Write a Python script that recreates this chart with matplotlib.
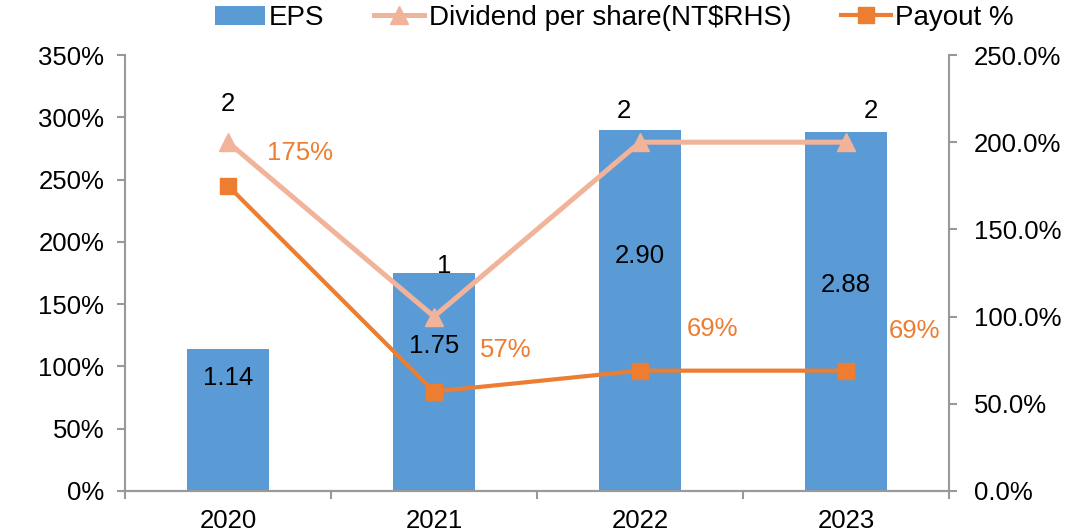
import matplotlib

matplotlib.use("Agg")

import matplotlib.pyplot as plt  # noqa: E402
from matplotlib.ticker import FixedLocator, PercentFormatter  # noqa: E402

plt.rcParams["font.family"] = ["Liberation Sans", "DejaVu Sans"]
plt.rcParams["font.size"] = 18.5

# values
YEARS = ["2020", "2021", "2022", "2023"]
EPS = [1.14, 1.75, 2.90, 2.88]  # plotted on left axis (1.00 = 100%)
DIVIDEND = [2, 1, 2, 2]  # plotted on right axis (1 = 100%)
PAYOUT = [1.75, 0.57, 0.69, 0.69]  # right axis
PAYOUT_LABELS = ["175%", "57%", "69%", "69%"]

# where Excel dropped the data labels (left-axis units for EPS, right-axis units for lines)
EPS_LABEL_Y = [0.91, 1.16, 1.89, 1.65]
DIV_LABEL_POS = [(0.0, 2.22), (0.05, 1.29), (-0.08, 2.18), (0.12, 2.18)]
PAYOUT_LABEL_POS = [(0.35, 1.94), (0.35, 0.81), (0.35, 0.93), (0.33, 0.92)]

BAR_COLOR = "#5B9BD5"
DIV_COLOR = "#F2B39B"
PAYOUT_COLOR = "#ED7D31"
AXIS_COLOR = "#999999"


def main() -> None:
    fig = plt.figure(figsize=(10.91, 5.32), dpi=100)
    ax = fig.add_axes([0.1146, 0.0771, 0.7553, 0.8195])
    ax2 = ax.twinx()

    x = list(range(len(YEARS)))
    ax.bar(x, EPS, width=0.4, color=BAR_COLOR, label="EPS", zorder=2)
    ax2.plot(x, DIVIDEND, color=DIV_COLOR, lw=3.6, marker="^", ms=13,
             label="Dividend per share(NT$RHS)", zorder=3)
    ax2.plot(x, PAYOUT, color=PAYOUT_COLOR, lw=3.0, marker="s", ms=11,
             label="Payout %", zorder=4)

    for i, v in enumerate(EPS):
        ax.text(i, EPS_LABEL_Y[i], f"{v:.2f}", ha="center", va="center", color="black")
    for i, v in enumerate(DIVIDEND):
        dx, y = DIV_LABEL_POS[i]
        ax2.text(i + dx, y, f"{v}", ha="center", va="center", color="black")
    for i, lab in enumerate(PAYOUT_LABELS):
        dx, y = PAYOUT_LABEL_POS[i]
        ax2.text(i + dx, y, lab, ha="center", va="center", color=PAYOUT_COLOR)

    ax.set_xlim(-0.5, len(YEARS) - 0.5)
    ax.set_ylim(0, 3.5)
    ax2.set_ylim(0, 2.5)
    ax.set_yticks([i * 0.5 for i in range(8)])
    ax2.set_yticks([i * 0.5 for i in range(6)])
    ax.yaxis.set_major_formatter(PercentFormatter(xmax=1, decimals=0))
    ax2.yaxis.set_major_formatter(PercentFormatter(xmax=1, decimals=1))

    ax.set_xticks(x)
    ax.set_xticklabels(YEARS)
    ax.xaxis.set_minor_locator(FixedLocator([i - 0.5 for i in range(len(YEARS) + 1)]))
    ax.tick_params(axis="x", which="major", length=0, pad=13)
    ax.tick_params(axis="x", which="minor", length=6, width=1.5, color=AXIS_COLOR)
    ax.tick_params(axis="y", length=6, width=1.5, color=AXIS_COLOR, pad=9)
    ax2.tick_params(axis="y", length=6, width=1.5, color=AXIS_COLOR, pad=12)

    for a in (ax, ax2):
        a.spines["top"].set_visible(False)
        for s in ("left", "right", "bottom"):
            a.spines[s].set_color(AXIS_COLOR)
            a.spines[s].set_linewidth(1.5)
    ax.spines["right"].set_visible(False)
    ax2.spines["left"].set_visible(False)

    handles = ax.get_legend_handles_labels()[0] + ax2.get_legend_handles_labels()[0]
    labels = ax.get_legend_handles_labels()[1] + ax2.get_legend_handles_labels()[1]
    fig.legend(handles, labels, loc="center", bbox_to_anchor=(0.563, 0.966), ncol=3,
               frameon=False, fontsize=20, handlelength=1.8, handletextpad=0.15,
               columnspacing=1.8, borderaxespad=0)

    fig.savefig("out.png", dpi=100)
    plt.close(fig)


if __name__ == "__main__":
    main()
